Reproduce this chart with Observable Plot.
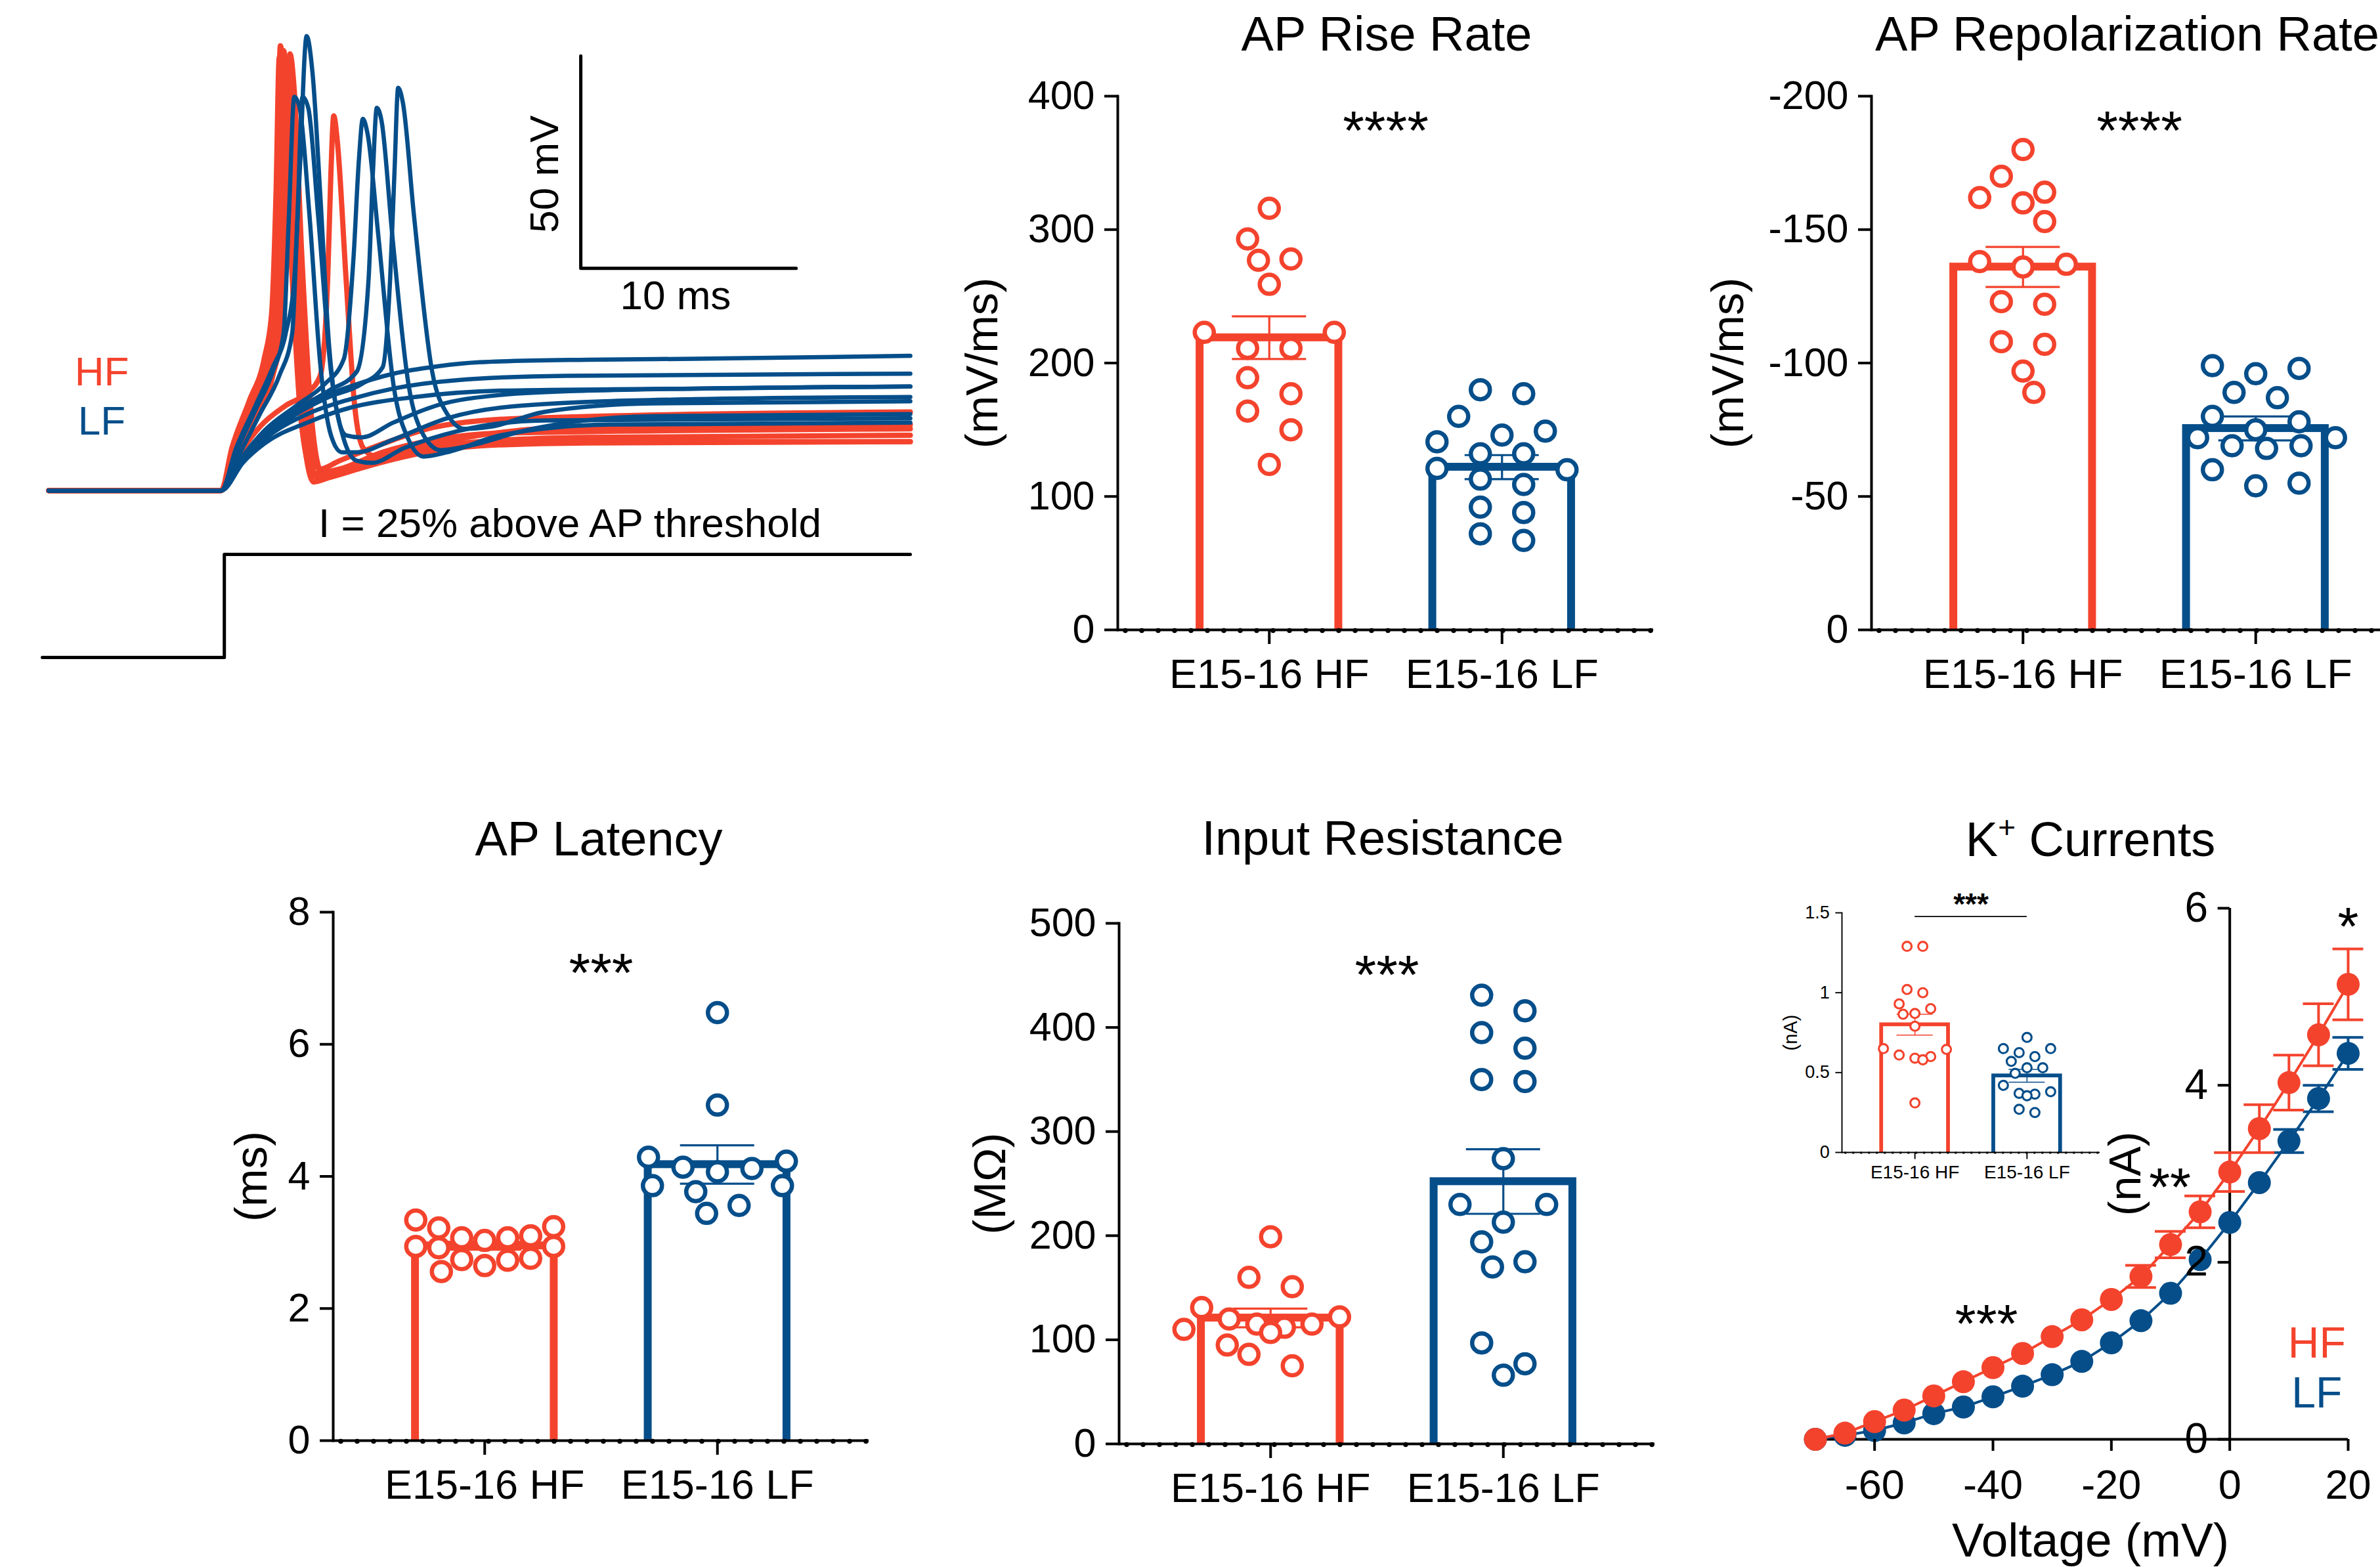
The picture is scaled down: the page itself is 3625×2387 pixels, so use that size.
<!DOCTYPE html>
<html><head><meta charset="utf-8">
<script src="https://cdn.jsdelivr.net/npm/d3@7"></script>
<script src="https://cdn.jsdelivr.net/npm/@observablehq/plot@0.6"></script>
<style>
html,body{margin:0;padding:0;background:#fff;}
#fig{position:relative;width:3625px;height:2387px;overflow:hidden;background:#fff;font-family:"Liberation Sans",Arial,Helvetica,sans-serif;color:#000;}
#fig svg{max-width:none !important;overflow:visible;background:transparent !important;font-family:"Liberation Sans",Arial,Helvetica,sans-serif;}
#fig .lbl{position:absolute;transform:translate(-50%,-50%);line-height:1;white-space:nowrap;}
</style></head><body><div id="fig"></div>
<script>
const RED = "#F4432D", BLUE = "#054E8A";
const groups = ["E15-16 HF", "E15-16 LF"];

// AP Rise Rate (mV/ms)
const riseHF = [316, 293, 277, 278, 259, 223, 223, 211, 211, 189, 177, 164, 150, 124];
const riseLF = [180, 177, 160, 146, 149, 141, 132, 132, 120, 121, 109, 113, 88, 92, 67, 72];
const riseMean = [219, 122], riseSem = [16, 9];

// AP Repolarization Rate (mV/ms)
const repolHF = [-180, -170, -160, -164, -162, -153, -136, -137, -138, -122, -123, -107, -108, -97, -89];
const repolLF = [-98, -96, -99, -89, -87, -78, -80, -75, -72, -72, -68, -69, -69, -60, -54, -55];
const repolMean = [-136, -75.5], repolSem = [7.5, 4.5];

// AP Latency (ms)
const latHF = [3.24, 2.94, 3.03, 2.65, 3.10, 2.76, 3.07, 2.73, 3.22, 2.74, 2.92, 2.56, 3.34, 2.94, 3.07];
const latLF = [6.48, 5.08, 4.12, 4.29, 4.14, 4.07, 4.23, 3.86, 3.77, 3.86, 3.56, 3.44];
const latMean = [2.95, 4.18], latSem = [0.06, 0.29];

// Input Resistance (MOhm)
const rinHF = [199, 160, 151, 131, 122, 120, 115, 110, 112, 107, 115, 95, 86, 75];
const rinLF = [431, 416, 395, 380, 348, 350, 274, 230, 230, 213, 194, 175, 170, 97, 77, 66];
const rinMean = [121, 252], rinSem = [9, 31];

// K+ current inset (nA)
const ikHF = [1.29, 1.29, 1.02, 1.0, 0.93, 0.90, 0.865, 0.87, 0.79, 0.645, 0.65, 0.59, 0.61, 0.58, 0.60, 0.31];
const ikLF = [0.72, 0.625, 0.65, 0.65, 0.57, 0.60, 0.53, 0.53, 0.495, 0.42, 0.365, 0.37, 0.355, 0.38, 0.25, 0.27];
const ikMean = [0.80, 0.48], ikSem = [0.065, 0.04];

// K+ I-V curves
const kVolt = [-70, -65, -60, -55, -50, -45, -40, -35, -30, -25, -20, -15, -10, -5, 0, 5, 10, 15, 20];
const kHF = [0.0, 0.07, 0.2, 0.33, 0.49, 0.65, 0.81, 0.97, 1.16, 1.35, 1.58, 1.84, 2.2, 2.57, 3.02, 3.51, 4.03, 4.57, 5.14];
const kHFsem = [0.01, 0.01, 0.02, 0.02, 0.03, 0.03, 0.04, 0.04, 0.05, 0.06, 0.08, 0.125, 0.15, 0.18, 0.22, 0.27, 0.31, 0.35, 0.40];
const kLF = [0.0, 0.045, 0.10, 0.185, 0.29, 0.365, 0.48, 0.60, 0.73, 0.88, 1.09, 1.34, 1.65, 2.03, 2.45, 2.90, 3.37, 3.85, 4.36];
const kLFsem = [0.01, 0.01, 0.01, 0.01, 0.02, 0.02, 0.02, 0.02, 0.03, 0.03, 0.03, 0.04, 0.04, 0.05, 0.06, 0.08, 0.13, 0.15, 0.18];
const kTicksX = [-60, -40, -20, 0, 20];
const kTicksY = [0, 2, 4, 6];
const kSigText = ["*", "**", "***"], kSigV = [20, -10.1, -41.1], kSigI = [5.86, 2.91, 1.37];
const kLegText = ["HF", "LF"], kLegV = [14.7, 14.7], kLegI = [1.08, 0.52];

// Voltage traces [time ms, membrane potential mV]
const hfTraces = [
  [[0,-70],[8,-70],[8.6,-60],[9.4,-50],[10.1,-40],[10.4,-30],[10.6,0],[10.75,34.7],[10.95,25],[11.3,-15],[11.7,-50],[12.1,-66],[12.3,-68],[13,-67],[15,-64],[17.5,-61],[20,-59.5],[25,-58.8],[40,-58.5]],
  [[0,-70],[8,-70],[8.6,-61],[9.5,-51],[10.2,-41],[10.55,-30],[10.75,0],[10.9,33.6],[11.1,24],[11.45,-15],[11.85,-50],[12.25,-65],[12.45,-67],[13.2,-66],[15,-63],[17.5,-60],[20,-58.5],[25,-57.5],[40,-57]],
  [[0,-70],[8,-70],[8.7,-61],[9.6,-52],[10.4,-43],[10.8,-32],[11.0,0],[11.2,32.8],[11.4,24],[11.75,-15],[12.15,-50],[12.5,-64],[12.7,-66],[13.5,-65],[15.5,-61],[18,-58],[21,-56.5],[40,-55.5]],
  [[0,-70],[8,-70],[8.6,-62],[9.5,-52],[10.3,-42],[10.65,-30],[10.85,0],[11.05,31],[11.25,22],[11.6,-15],[12.0,-48],[12.35,-63],[12.55,-65],[13.5,-63],[15.5,-59],[18,-55],[22,-53],[40,-51.5]],
  [[0,-70],[8,-70],[8.8,-62],[9.8,-55],[11,-50],[12,-47],[12.6,-43],[12.95,-20],[13.1,5],[13.23,18.2],[13.4,12],[13.8,-20],[14.2,-50],[14.6,-60],[15.2,-62],[17,-60],[20,-57],[25,-55],[40,-54.5]],
  [[0,-70],[8,-70],[8.5,-60],[9.3,-49],[10.0,-39],[10.35,-28],[10.55,0],[10.7,32],[10.9,24],[11.25,-15],[11.65,-50],[12.05,-64],[12.25,-66],[13,-65.5],[15,-63],[17.5,-60.5],[20,-59],[25,-58.5],[40,-58.5]]
];
const lfTraces = [
  [[0,-70],[8,-70],[8.7,-60],[9.6,-50],[10.4,-41],[11.0,-33],[11.4,-20],[11.65,5],[11.97,37],[12.25,28],[12.6,0],[13.0,-35],[13.4,-52],[13.8,-57],[14.5,-57.5],[16,-54],[18,-50],[21,-47.5],[25,-46.5],[40,-45.5]],
  [[0,-70],[8,-70],[8.7,-61],[9.6,-51],[10.4,-42],[10.9,-33],[11.15,-5],[11.4,22.7],[11.65,20],[12.1,-5],[12.6,-40],[13.1,-57],[13.6,-61],[14.3,-61],[16,-58],[18.5,-53],[22,-50],[30,-48.5],[40,-48]],
  [[0,-70],[8,-70],[8.8,-62],[9.8,-52],[10.7,-43],[11.3,-33],[11.55,-5],[11.78,22.7],[12.05,20],[12.5,-5],[13.1,-42],[13.7,-58],[14.3,-63],[15,-63.5],[16.5,-60],[19,-56],[23,-53.5],[40,-53]],
  [[0,-70],[8,-70],[8.9,-63],[10,-56],[11.5,-50],[12.8,-45],[13.7,-39],[14.15,-15],[14.4,8],[14.58,17.5],[14.8,14],[15.3,-10],[16.0,-45],[16.7,-58],[17.4,-62],[18.5,-61],[21,-57],[26,-54.5],[40,-54]],
  [[0,-70],[8,-70],[8.9,-63],[10,-57],[11.5,-51],[13,-46.5],[14.3,-42],[14.85,-20],[15.05,5],[15.23,20.1],[15.45,17],[15.95,-10],[16.7,-45],[17.4,-57],[18.2,-60.5],[19.5,-59.5],[22,-56],[28,-52.5],[40,-52]],
  [[0,-70],[8,-70],[9,-63.5],[10,-58],[11.5,-52],[13,-48],[14.5,-45],[15.5,-41],[15.85,-20],[16.05,5],[16.22,24.8],[16.45,21],[16.95,-5],[17.8,-42],[18.5,-52],[19.3,-55.5],[20.5,-55],[23,-51.5],[28,-49.5],[40,-49]],
  [[0,-70],[8,-70],[9,-62],[10,-56],[12,-49.5],[14,-45.5],[16,-42.5],[18,-40.8],[20,-39.8],[25,-39.2],[30,-39],[40,-38.3]],
  [[0,-70],[8,-70],[9,-63],[10,-58],[12,-52],[14,-48.5],[16,-46],[19,-44],[24,-43],[40,-42.5]],
  [[0,-70],[8,-70],[9,-63.5],[10,-59],[12,-54],[14,-50.5],[17,-48],[21,-46.5],[30,-46],[40,-45.5]]
];
// current step (relative amplitude)
const stepT = [-0.3, 8.15, 40], stepI = [0, 1, 1];
// scale bar: origin (ms, mV) and lengths
const sbT0 = 24.7, sbV0 = -17.7, sbMs = 10, sbMv = 50;

const fig = document.getElementById("fig");
function place(node, x, y) {
  const d = document.createElement("div");
  d.style.cssText = `position:absolute;left:${x}px;top:${y}px;`;
  d.appendChild(node);
  fig.appendChild(d);
}
function label(html, x, y, size, color = "#000") {
  const d = document.createElement("div");
  d.className = "lbl";
  d.innerHTML = html;
  d.style.left = x + "px"; d.style.top = y + "px";
  d.style.fontSize = size + "px"; d.style.color = color;
  fig.appendChild(d);
}

// row-based scatter layout (GraphPad-like): rows of nearby values spread symmetrically
function swarm(vals, yPix, u, D, maxHalf) {
  const pts = vals.map(v => ({v, y: yPix(v)})).sort((a, b) => a.y - b.y);
  const rows = [];
  for (const p of pts) {
    const last = rows[rows.length - 1];
    if (last && p.y - last[0].y < 0.9 * D) last.push(p); else rows.push([p]);
  }
  const placed = [];
  for (const row of rows) {
    const n = row.length;
    const sp = n > 1 ? Math.min(2 * u, 2 * maxHalf / (n - 1)) : 0;
    const slots = d3.range(n).map(i => (i - (n - 1) / 2) * sp);
    const order = [];
    let lo = 0, hi = n - 1;
    while (lo <= hi) { order.push(lo++); if (lo <= hi) order.push(hi--); }
    row.forEach((p, j) => p.base = slots[order[j]]);
    const shifts = [0];
    for (let k = 1; k <= 4; k++) shifts.push(k * u / 2, -k * u / 2);
    let best = 0, bestScore = -Infinity;
    for (const sh of shifts) {
      let minD = Infinity;
      for (const p of row) for (const q of placed) minD = Math.min(minD, Math.hypot(p.base + sh - q.x, p.y - q.y));
      if (minD >= D) { best = sh; break; }
      if (minD > bestScore + 0.5) { bestScore = minD; best = sh; }
    }
    row.forEach(p => { p.x = p.base + best; placed.push(p); });
  }
  return placed;
}

function barPanel(o) {
  const s = o.s ?? 1;
  const mL = o.mL, mR = 10, mT = o.mT ?? 120, mB = o.mB ?? 140;
  const pi = 0.37, po = 0.336;
  const step = o.W / (2 - pi + 2 * po);
  const bw = step * (1 - pi);
  const c0 = po * step + bw / 2;
  const half = bw / 2 / step, capHalf = o.cap / 2 / step;
  const yPix = d3.scaleLinear(o.domain, [o.H, 0]);
  const r = 14.5 * s, dsw = 6.5 * s;
  const data = [];
  [o.hf, o.lf].forEach((vals, k) => {
    for (const p of swarm(vals, yPix, o.u, 2 * r + dsw, o.maxHalf)) data.push({g: groups[k], v: p.v, x: k + p.x / step});
  });
  const summary = groups.map((g, k) => ({g, k, m: o.mean[k], lo: o.mean[k] - o.sem[k], hi: o.mean[k] + o.sem[k]}));
  const base = o.domain[0];
  const sw = 12 * s;
  const marks = [
    Plot.rectY(summary, {x1: d => d.k - half, x2: d => d.k + half, y1: base, y2: "m", stroke: "g", fill: "white", strokeWidth: sw, insetLeft: sw / 2, insetRight: sw / 2, insetBottom: -30 * s, clip: true}),
    Plot.ruleX(summary, {x: "k", y1: "lo", y2: "hi", stroke: "g", strokeWidth: 3.2 * s}),
    Plot.ruleY(summary, {y: "hi", x1: d => d.k - capHalf, x2: d => d.k + capHalf, stroke: "g", strokeWidth: 3.2 * s}),
    Plot.ruleY(summary, {y: "lo", x1: d => d.k - capHalf, x2: d => d.k + capHalf, stroke: "g", strokeWidth: 3.2 * s}),
    Plot.dot(data, {x: "x", y: "v", r, stroke: "g", fill: "white", strokeWidth: dsw}),
    Plot.ruleY([base], {stroke: "black", strokeWidth: 4 * s}),
    Plot.ruleY([base], {stroke: "black", strokeWidth: 7.5 * s, strokeDasharray: `0 ${25 * s}`, strokeLinecap: "round", dy: 1 * s, insetLeft: 12 * s}),
    Plot.frame({anchor: "left", stroke: "black", strokeWidth: 4 * s}),
    Plot.axisY({ticks: o.ticks, tickFormat: d => String(d), tickSize: 20 * s, tickPadding: o.tp, stroke: "black", strokeWidth: 4 * s, fontSize: o.tickFont, label: null}),
    Plot.axisX({ticks: [0, 1], tickFormat: i => groups[i], tickSize: 22 * s, tickPadding: o.xp, stroke: "black", strokeWidth: 4 * s, fontSize: o.xFont, label: null}),
    Plot.text([o.ylabel], {frameAnchor: "left", textAnchor: "middle", rotate: -90, dx: -o.labelDx, fontSize: o.labelFont, text: d => d}),
    Plot.text([o.sig], {frameAnchor: "top", textAnchor: "middle", dy: o.sigDy, fontSize: o.sigFont, fontWeight: o.sigWeight ?? "normal", text: d => d})
  ];
  if (o.sigLine != null) marks.push(Plot.ruleY([o.sigLine], {x1: 0, x2: 1, stroke: "black", strokeWidth: 1.6}));
  const svg = Plot.plot({
    width: mL + o.W + mR, height: mT + o.H + mB,
    marginLeft: mL, marginRight: mR, marginTop: mT, marginBottom: mB,
    style: `font-size:${o.tickFont}px;`,
    x: {domain: [-c0 / step, (o.W - c0) / step], label: null},
    y: {domain: o.domain, label: null},
    color: {domain: groups, range: [RED, BLUE]},
    marks
  });
  place(svg, o.left - mL, o.top - mT);
}

// ---------- Panel: voltage traces ----------
const trW = 1322, trH = 744;
const hfRows = hfTraces.flatMap((tr, k) => tr.map(([t, v]) => ({k, t, v})));
const lfRows = lfTraces.flatMap((tr, k) => tr.map(([t, v]) => ({k, t, v})));
const sbRows = [{t: sbT0, v: sbV0 + sbMv}, {t: sbT0, v: sbV0}, {t: sbT0 + sbMs, v: sbV0}];
place(Plot.plot({
  width: trW, height: trH, margin: 0,
  x: {domain: [-0.3, 40], axis: null}, y: {domain: [-75, 40], axis: null},
  style: "font-size:62px;",
  marks: [
    Plot.line(hfRows, {x: "t", y: "v", z: "k", stroke: RED, strokeWidth: 8, curve: "monotone-x"}),
    Plot.line(lfRows, {x: "t", y: "v", z: "k", stroke: BLUE, strokeWidth: 6.5, curve: "monotone-x"}),
    Plot.line(sbRows, {x: "t", y: "v", stroke: "black", strokeWidth: 5}),
    Plot.text([`${sbMv} mV`], {x: sbT0 - 1.65, y: sbV0 + 22.2, rotate: -90, fontSize: 62, text: d => d}),
    Plot.text([`${sbMs} ms`], {x: sbT0 + 4.4, y: sbV0 - 6.5, fontSize: 62, text: d => d})
  ]
}), 64, 35);
const stepRows = stepT.map((t, j) => ({t, i: stepI[j]}));
place(Plot.plot({
  width: trW, height: 157, margin: 0,
  x: {domain: [-0.3, 40], axis: null}, y: {domain: [0, 1], axis: null},
  marks: [Plot.line(stepRows, {x: "t", y: "i", curve: "step-after", stroke: "black", strokeWidth: 5})]
}), 64, 844);
label("HF", 155, 566, 62, RED);
label("LF", 155, 641, 62, BLUE);
label("I = 25% above AP threshold", 868, 797, 62);

// ---------- Bar panels ----------
const common = {W: 816, tp: 15, xp: 22, tickFont: 61, xFont: 63, cap: 113, u: 33, maxHalf: 105, labelFont: 69, sigFont: 84};
barPanel({...common, left: 1702, top: 146, H: 813, mL: 300, hf: riseHF, lf: riseLF, mean: riseMean, sem: riseSem,
  domain: [0, 400], ticks: [0, 100, 200, 300, 400], ylabel: "(mV/ms)", labelDx: 206, sig: "****", sigDy: 22});
barPanel({...common, left: 2850, top: 146, H: 813, mL: 300, hf: repolHF, lf: repolLF, mean: repolMean, sem: repolSem,
  domain: [0, -200], ticks: [0, -50, -100, -150, -200], ylabel: "(mV/ms)", labelDx: 218, sig: "****", sigDy: 22});
barPanel({...common, left: 507, top: 1389, H: 805, mL: 200, hf: latHF, lf: latLF, mean: latMean, sem: latSem,
  domain: [0, 8], ticks: [0, 2, 4, 6, 8], ylabel: "(ms)", labelDx: 124, sig: "***", sigDy: 62});
barPanel({...common, left: 1704, top: 1406, H: 793, mL: 300, hf: rinHF, lf: rinLF, mean: rinMean, sem: rinSem,
  domain: [0, 500], ticks: [0, 100, 200, 300, 400, 500], ylabel: "(MΩ)", labelDx: 196, sig: "***", sigDy: 48});

// titles
label("AP Rise Rate", 2112, 52, 74);
label("AP Repolarization Rate", 3240, 52, 74);
label("AP Latency", 912, 1278, 74);
label("Input Resistance", 2106, 1277, 74);
label('K<span style="font-size:0.62em;vertical-align:0.62em">+</span> Currents', 3184, 1277, 74);

// ---------- K+ I-V ----------
function ivMarks(vals, sems, color) {
  const rows = kVolt.map((v, j) => ({v, i: vals[j], e: sems[j]}));
  const eb = rows.filter(d => d.e >= 0.12);
  return [
    Plot.line(rows, {x: "v", y: "i", stroke: color, strokeWidth: 4}),
    Plot.ruleX(eb, {x: "v", y1: d => d.i - d.e, y2: d => d.i + d.e, stroke: color, strokeWidth: 4}),
    Plot.ruleY(eb, {y: d => d.i + d.e, x1: d => d.v - 2.6, x2: d => d.v + 2.6, stroke: color, strokeWidth: 4}),
    Plot.ruleY(eb, {y: d => d.i - d.e, x1: d => d.v - 2.6, x2: d => d.v + 2.6, stroke: color, strokeWidth: 4}),
    Plot.dot(rows, {x: "v", y: "i", r: 17.5, fill: color})
  ];
}
const sigRows = kSigText.map((t, j) => ({t, v: kSigV[j], i: kSigI[j]}));
const legRows = kLegText.map((t, j) => ({t, v: kLegV[j], i: kLegI[j]}));
place(Plot.plot({
  width: 20 + 825 + 60, height: 40 + 809 + 220,
  marginLeft: 20, marginRight: 60, marginTop: 40, marginBottom: 220,
  x: {domain: [-71.5, 20], axis: null}, y: {domain: [0, 6], axis: null},
  style: "font-size:60px;",
  color: {domain: kLegText, range: [RED, BLUE]},
  marks: [
    Plot.ruleY([0], {stroke: "black", strokeWidth: 4}),
    Plot.ruleX([0], {y1: 0, y2: 6, stroke: "black", strokeWidth: 4}),
    ...ivMarks(kLF, kLFsem, BLUE),
    ...ivMarks(kHF, kHFsem, RED),
    Plot.ruleY(kTicksY, {x1: -2, x2: 0, stroke: "black", strokeWidth: 4}),
    Plot.text(kTicksY, {x: 0, y: d => d, dx: -33, textAnchor: "end", fontSize: 64, text: d => String(d)}),
    Plot.axisX({ticks: kTicksX, tickFormat: d => String(d), tickSize: 18, tickPadding: 28, stroke: "black", strokeWidth: 4, fontSize: 63, label: null}),
    Plot.text(["Voltage (mV)"], {frameAnchor: "bottom", textAnchor: "middle", dx: 20, dy: 178, fontSize: 73, text: d => d}),
    Plot.text(["(nA)"], {x: -17.5, y: 3.0, rotate: -90, fontSize: 68, text: d => d}),
    Plot.text(sigRows, {x: "v", y: "i", text: "t", dy: 10, fontSize: 82}),
    Plot.text(legRows, {x: "v", y: "i", text: "t", fill: "t", fontSize: 66})
  ]
}), 2731, 1343);

// inset
barPanel({left: 2805, top: 1390, W: 393, H: 365, mL: 110, mT: 60, mB: 60, s: 0.48, hf: ikHF, lf: ikLF, mean: ikMean, sem: ikSem,
  domain: [0, 1.5], ticks: [0, 0.5, 1, 1.5], tp: 9, xp: 9, tickFont: 27, xFont: 28, cap: 55, u: 12, maxHalf: 50,
  ylabel: "(nA)", labelDx: 78, labelFont: 29, sig: "***", sigDy: -30, sigFont: 46, sigWeight: "bold", sigLine: 1.477});
</script></body></html>
